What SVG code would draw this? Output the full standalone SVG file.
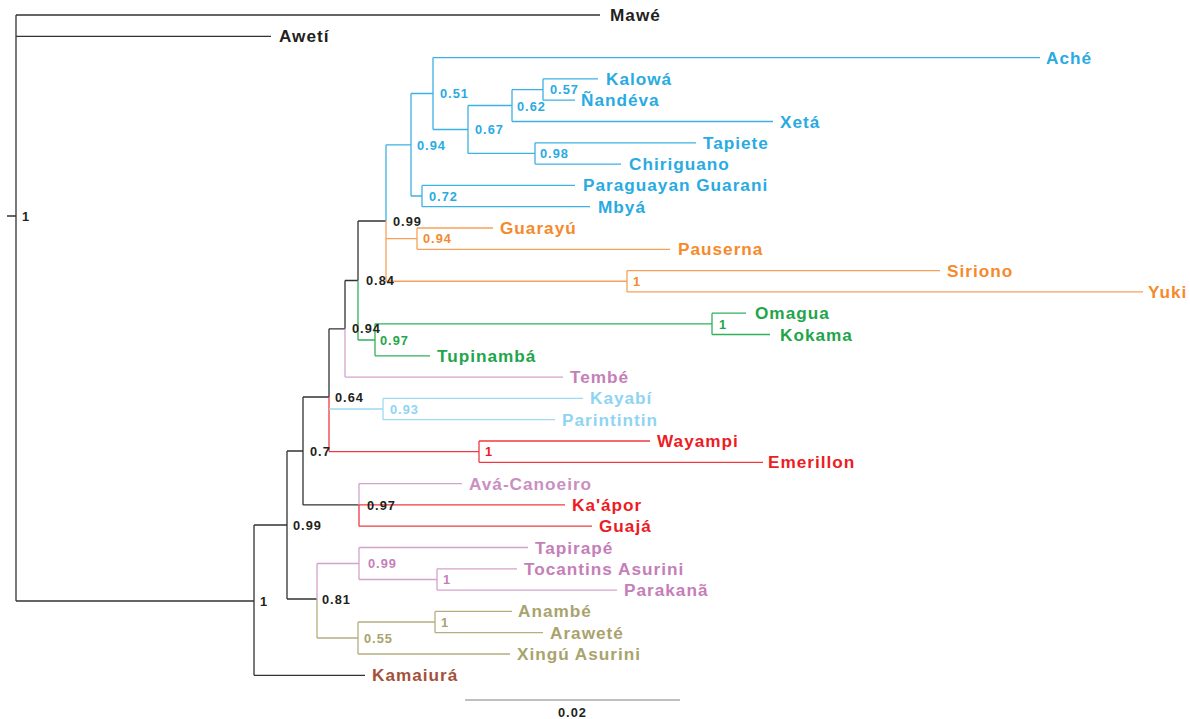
<svg xmlns="http://www.w3.org/2000/svg" width="1190" height="719" viewBox="0 0 1190 719">
<style>
text{font-family:"Liberation Sans",Arial,Helvetica,sans-serif;font-weight:bold}
.lf{font-size:17.2px;letter-spacing:1px}
.sv{font-size:12.8px;letter-spacing:1px}
path{fill:none;stroke-width:1.3}
.k{stroke:#333}
.b{stroke:#3eb1e4}
.o{stroke:#f7a05a}
.g{stroke:#2fb259}
.p{stroke:#d4a3cc}
.r{stroke:#ef3a42}
.lb{stroke:#9ddaf4}
.ol{stroke:#b4ae80}
.sb{stroke:#aaa;stroke-width:1.6}
.tk{fill:#231f20}.tb{fill:#29abe2}.to{fill:#f58a2c}.tg{fill:#1fa54a}.tp{fill:#c57eb8}.tpl{fill:#c98fc1}.tr{fill:#ed1c24}.tlb{fill:#8fd4f3}.tol{fill:#a9a36d}.tbr{fill:#a5513a}
</style>
<rect width="1190" height="719" fill="#fff"/>
<g id="connectors">
<path class="k" d="M7,216H16M16,15V601M16,15H600M16,36.3H271M16,601H254M254,525V675.3M254,675.3H365M254,525H287M287,451V599M287,599H317M287,451H303M303,397V504.9M303,504.9H359M303,397H329M329,328.8V397M329,328.8H345M345,280.5V328.8M345,280.5H358M358,221V280.5M358,221H386"/>
<path class="b" d="M386,144.8V221M386,144.8H411M411,93.5V196M411,93.5H433M433,57.6V129.5M433,57.6H1040M433,129.5H468M468,105.5V153.45M468,105.5H512M512,89.55V121.5M512,121.5H773M512,89.55H543M543,78.9V100.2M543,78.9H598M543,100.2H575M468,153.45H535M535,142.8V164.1M535,142.8H696M535,164.1H621M411,196H422M422,185.4V206.7M422,185.4H575M422,206.7H590"/>
<path class="o" d="M386,221V281.25M386,238.6H417M417,228V249.3M417,228H493M417,249.3H670M386,281.25H627M627,270.6V291.9M627,270.6H940M627,291.9H1143"/>
<path class="g" d="M358,280.5V340M358,340H375M375,323.8V355.8M375,323.8H712M712,313.2V334.5M712,313.2H746M712,334.5H770M375,355.8H430"/>
<path class="p" d="M345,328.8V377.1M345,377.1H563M359,483.6V504.9M359,483.6H462M317,563.5V599M317,563.5H359M359,547.5V579.5M359,547.5H528M359,579.5H437M437,568.8V590.1M437,568.8H517M437,590.1H617"/>
<path class="r" d="M329,397V451.6M329,451.6H479M479,441V462.3M479,441H650M479,462.3H763M359,504.9V526.2M359,504.9H565M359,526.2H592"/>
<path class="lb" d="M329,409H383M383,398.4V419.7M383,398.4H583M383,419.7H555"/>
<path class="ol" d="M317,599V638M317,638H358M358,622V654M358,622H435M435,611.4V632.7M435,611.4H512M435,632.7H543M358,654H510"/>
<path class="sb" d="M465,700H680"/>
</g>
<g id="leaves" class="lf">
<g id="n-mawe"><text class="tk" x="610" y="21">Mawé</text></g>
<g id="n-aweti"><text class="tk" x="279" y="42.3">Awetí</text></g>
<g id="n-ache"><text class="tb" x="1046" y="63.6">Aché</text></g>
<g id="n-kalowa"><text class="tb" x="606" y="84.9">Kalowá</text></g>
<g id="n-nandeva"><text class="tb" x="581" y="106.2">Ñandéva</text></g>
<g id="n-xeta"><text class="tb" x="780" y="127.5">Xetá</text></g>
<g id="n-tapiete"><text class="tb" x="703" y="148.8">Tapiete</text></g>
<g id="n-chiriguano"><text class="tb" x="629" y="170.1">Chiriguano</text></g>
<g id="n-paraguayan"><text class="tb" x="583" y="191.4">Paraguayan Guarani</text></g>
<g id="n-mbya"><text class="tb" x="598" y="212.7">Mbyá</text></g>
<g id="n-guarayu"><text class="to" x="500" y="234">Guarayú</text></g>
<g id="n-pauserna"><text class="to" x="678" y="255.3">Pauserna</text></g>
<g id="n-siriono"><text class="to" x="947" y="276.6">Siriono</text></g>
<g id="n-yuki"><text class="to" x="1148" y="297.9">Yuki</text></g>
<g id="n-omagua"><text class="tg" x="755" y="319.2">Omagua</text></g>
<g id="n-kokama"><text class="tg" x="780" y="340.5">Kokama</text></g>
<g id="n-tupinamba"><text class="tg" x="437" y="361.8">Tupinambá</text></g>
<g id="n-tembe"><text class="tp" x="570" y="383.1">Tembé</text></g>
<g id="n-kayabi"><text class="tlb" x="590" y="404.4">Kayabí</text></g>
<g id="n-parintintin"><text class="tlb" x="562" y="425.7">Parintintin</text></g>
<g id="n-wayampi"><text class="tr" x="657" y="447">Wayampi</text></g>
<g id="n-emerillon"><text class="tr" x="768" y="468.3">Emerillon</text></g>
<g id="n-ava"><text class="tpl" x="469" y="489.6">Avá-Canoeiro</text></g>
<g id="n-kaapor"><text class="tr" x="572" y="510.9">Ka'ápor</text></g>
<g id="n-guaja"><text class="tr" x="599" y="532.2">Guajá</text></g>
<g id="n-tapirape"><text class="tp" x="535" y="553.5">Tapirapé</text></g>
<g id="n-tocantins"><text class="tp" x="524" y="574.8">Tocantins Asurini</text></g>
<g id="n-parakana"><text class="tp" x="624" y="596.1">Parakanã</text></g>
<g id="n-anambe"><text class="tol" x="518" y="617.4">Anambé</text></g>
<g id="n-arawete"><text class="tol" x="550" y="638.7">Araweté</text></g>
<g id="n-xingu"><text class="tol" x="517" y="660">Xingú Asurini</text></g>
<g id="n-kamaiura"><text class="tbr" x="372" y="681.3">Kamaiurá</text></g>
</g>
<g id="support" class="sv">
<text class="tk" x="22" y="220.5">1</text>
<text class="tb" x="440" y="98">0.51</text>
<text class="tb" x="550" y="94">0.57</text>
<text class="tb" x="517" y="111">0.62</text>
<text class="tb" x="475" y="134">0.67</text>
<text class="tb" x="540" y="158">0.98</text>
<text class="tb" x="417" y="149.5">0.94</text>
<text class="tb" x="429" y="200.5">0.72</text>
<text class="tk" x="393" y="225.5">0.99</text>
<text class="to" x="423" y="243">0.94</text>
<text class="to" x="633" y="286">1</text>
<text class="tk" x="366" y="285">0.84</text>
<text class="tg" x="719" y="328.5">1</text>
<text class="tk" x="352" y="333">0.94</text>
<text class="tg" x="380" y="344.5">0.97</text>
<text class="tk" x="335" y="401.5">0.64</text>
<text class="tlb" x="390" y="413.5">0.93</text>
<text class="tr" x="485" y="456">1</text>
<text class="tk" x="310" y="455.5">0.7</text>
<text class="tk" x="367" y="509.5">0.97</text>
<text class="tk" x="293" y="529.5">0.99</text>
<text class="tp" x="368" y="568">0.99</text>
<text class="tp" x="443" y="584">1</text>
<text class="tk" x="322" y="603.5">0.81</text>
<text class="tol" x="441" y="626.5">1</text>
<text class="tol" x="364" y="642.5">0.55</text>
<text class="tk" x="260" y="605.5">1</text>
<text class="tk" x="558" y="717">0.02</text>
</g>
</svg>
